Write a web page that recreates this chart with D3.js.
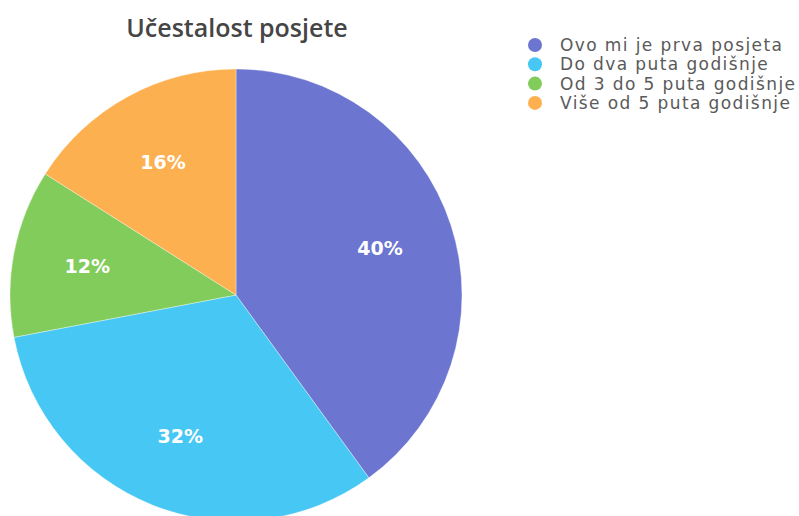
<!DOCTYPE html>
<html><head><meta charset="utf-8">
<script src="https://cdn.jsdelivr.net/npm/d3@7"></script>
<style>body{margin:0;background:#fff;}svg{display:block;}</style>
</head><body>
<svg id="c" width="799" height="516"></svg>
<script>
const title = "Učestalost posjete";
const categories = ["Ovo mi je prva posjeta","Do dva puta godišnje","Od 3 do 5 puta godišnje","Više od 5 puta godišnje"];
const values = [40, 32, 12, 16];
const colors = ["#6c75cf","#47c7f4","#82cc5c","#fdb050"];

const svg = d3.select("#c");
const cx = 236, cy = 295, r = 226;
const g = svg.append("g").attr("transform",`translate(${cx},${cy})`);
const pie = d3.pie().sort(null).value(d=>d);
const arcs = pie(values);
const arc = d3.arc().innerRadius(0).outerRadius(r);
const labelArc = d3.arc().innerRadius(r*0.67).outerRadius(r*0.67);
g.selectAll("path").data(arcs).join("path")
  .attr("d",arc).attr("fill",(d,i)=>colors[i])
  .attr("stroke","rgba(255,255,255,0.35)").attr("stroke-width",1);
g.selectAll("text").data(arcs).join("text")
  .attr("transform",d=>`translate(${labelArc.centroid(d)})`)
  .attr("text-anchor","middle").attr("dy","0.36em")
  .attr("fill","#fff").attr("font-family","DejaVu Sans, sans-serif")
  .attr("font-weight","bold").attr("font-size",19)
  .text(d=>d.data+"%");

svg.append("text").attr("x",237).attr("y",37).attr("text-anchor","middle")
  .attr("font-family","Open Sans, sans-serif").attr("font-weight",600).attr("font-size",25)
  .attr("fill","#454545").text(title);

const lg = svg.append("g");
const items = lg.selectAll("g").data(categories).join("g")
  .attr("transform",(d,i)=>`translate(535,${45+i*19.3})`);
items.append("circle").attr("r",7).attr("fill",(d,i)=>colors[i]);
items.append("text").attr("x",25).attr("dy","0.36em")
  .attr("font-family","DejaVu Sans, sans-serif").attr("font-size",17)
  .attr("letter-spacing",1.4)
  .attr("fill","#5a5a5a").text(d=>d);
</script>
</body></html>
